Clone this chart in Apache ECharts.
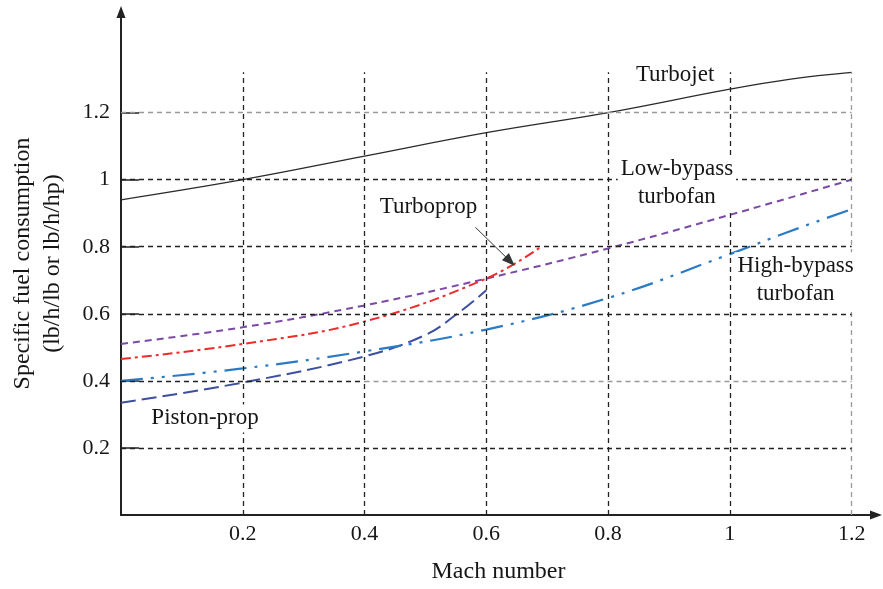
<!DOCTYPE html>
<html>
<head>
<meta charset="utf-8">
<script src="https://cdn.jsdelivr.net/npm/echarts@6/dist/echarts.min.js"></script>
<style>
  html, body { margin: 0; padding: 0; background: #fff; }
  #chart { width: 883px; height: 589px; }
</style>
</head>
<body>
<div id="chart"></div>
<script>
// tick values
const xTicks = [0.2, 0.4, 0.6, 0.8, 1, 1.2];
const yTicks = [0.2, 0.4, 0.6, 0.8, 1, 1.2];

// curves (mach number -> sfc)
const machTurbojet = [0, 0.2, 0.4, 0.6, 0.8, 1.0, 1.1, 1.2];
const sfcTurbojet = [0.94, 1.0, 1.07, 1.14, 1.2, 1.27, 1.30, 1.32];

const machLowBypass = [0, 0.2, 0.4, 0.6, 0.8, 1.0, 1.2];
const sfcLowBypass = [0.51, 0.56, 0.625, 0.705, 0.795, 0.895, 1.0];

const machTurboprop = [0, 0.2, 0.4, 0.6, 0.69];
const sfcTurboprop = [0.465, 0.51, 0.577, 0.705, 0.80];

const machPiston = [0, 0.2, 0.4, 0.5, 0.55, 0.6];
const sfcPiston = [0.335, 0.395, 0.473, 0.537, 0.597, 0.67];

const machHighBypass = [0, 0.2, 0.4, 0.6, 0.8, 1.0, 1.1, 1.2];
const sfcHighBypass = [0.40, 0.437, 0.488, 0.553, 0.647, 0.778, 0.847, 0.912];

const labelNames = ['Turbojet', 'Low-bypass\nturbofan', 'Turboprop', 'High-bypass\nturbofan', 'Piston-prop'];

const zip = (xs, ys) => xs.map((x, i) => [x, ys[i]]);
const FONT = '"Liberation Serif", "DejaVu Serif", serif';
const TEXT = '#161616';
const gridTop = 1.32;

const chart = echarts.init(document.getElementById('chart'));

// dashed grid lines (end at the top of the data, not at the arrow)
const gridLines = [];
xTicks.forEach(x => {
  gridLines.push([
    {coord: [x, 0], lineStyle: {color: x === 1.2 ? '#999' : '#222'}},
    {coord: [x, gridTop]}
  ]);
});
yTicks.forEach(y => {
  if (y === 0.4) {
    gridLines.push([{coord: [0, y], lineStyle: {color: '#222'}}, {coord: [0.4, y]}]);
    gridLines.push([{coord: [0.4, y], lineStyle: {color: '#999'}}, {coord: [1.2, y]}]);
  } else {
    gridLines.push([
      {coord: [0, y], lineStyle: {color: y === 1.2 ? '#999' : '#222'}},
      {coord: [1.2, y]}
    ]);
  }
});

// annotation anchor points in data coordinates
const labelPoints = [
  [0.91, 1.313],
  [0.913, 0.99],
  [0.505, 0.918],
  [1.108, 0.70],
  [0.138, 0.288]
];

const option = {
  animation: false,
  backgroundColor: '#fff',
  grid: {left: 118, right: 7, top: 12, bottom: 72},
  xAxis: {
    type: 'value',
    min: 0,
    max: 1.24,
    interval: 0.2,
    name: 'Mach number',
    nameLocation: 'middle',
    nameGap: 45,
    nameTextStyle: {fontFamily: FONT, fontSize: 24, color: TEXT},
    axisLine: {
      lineStyle: {color: '#222', width: 2},
      symbol: ['none', 'triangle'],
      symbolSize: [9, 12]
    },
    axisTick: {show: false},
    axisLabel: {
      customValues: xTicks,
      formatter: v => String(v),
      fontFamily: FONT, fontSize: 22, color: TEXT, margin: 8
    },
    splitLine: {show: false}
  },
  yAxis: {
    type: 'value',
    min: 0,
    max: 1.5,
    interval: 0.1,
    name: 'Specific fuel consumption\n(lb/h/lb or lb/h/hp)',
    nameLocation: 'middle',
    nameRotate: 90,
    nameGap: 53,
    nameTextStyle: {fontFamily: FONT, fontSize: 24, color: TEXT, lineHeight: 30},
    axisLine: {
      lineStyle: {color: '#222', width: 2},
      symbol: ['none', 'triangle'],
      symbolSize: [9, 12]
    },
    axisTick: {
      customValues: yTicks,
      inside: true,
      length: 18,
      lineStyle: {color: '#222', width: 1.5}
    },
    axisLabel: {
      customValues: yTicks,
      formatter: v => String(v),
      fontFamily: FONT, fontSize: 22, color: TEXT, margin: 11
    },
    splitLine: {show: false}
  },
  series: [
    {
      name: 'grid',
      type: 'line',
      data: [],
      silent: true,
      z: 1,
      markLine: {
        silent: true,
        symbol: ['none', 'none'],
        label: {show: false},
        lineStyle: {type: [5, 4], width: 1.3, color: '#222'},
        data: gridLines
      }
    },
    {
      name: 'Turbojet',
      type: 'line',
      data: zip(machTurbojet, sfcTurbojet),
      smooth: 0.4,
      showSymbol: false,
      z: 3,
      lineStyle: {color: '#2a2a2a', width: 1.3}
    },
    {
      name: 'Low-bypass turbofan',
      type: 'line',
      data: zip(machLowBypass, sfcLowBypass),
      smooth: 0.4,
      showSymbol: false,
      z: 3,
      lineStyle: {color: '#7b4aa6', width: 2, type: [7, 5]}
    },
    {
      name: 'Turboprop',
      type: 'line',
      data: zip(machTurboprop, sfcTurboprop),
      smooth: 0.4,
      showSymbol: false,
      z: 3,
      lineStyle: {color: '#ee2b2b', width: 2, type: [10, 4, 3, 4]}
    },
    {
      name: 'Piston-prop',
      type: 'line',
      data: zip(machPiston, sfcPiston),
      smooth: 0.4,
      showSymbol: false,
      z: 3,
      lineStyle: {color: '#3d4f9f', width: 2, type: [15, 6]}
    },
    {
      name: 'High-bypass turbofan',
      type: 'line',
      data: zip(machHighBypass, sfcHighBypass),
      smooth: 0.4,
      showSymbol: false,
      z: 3,
      lineStyle: {color: '#2b7bc4', width: 2.2, type: [22, 8, 3, 8, 3, 8]}
    },
    {
      name: 'labels',
      type: 'scatter',
      symbolSize: 0,
      silent: true,
      z: 5,
      itemStyle: {opacity: 1, color: '#fff'},
      data: labelPoints.map((p, i) => ({value: p, name: labelNames[i]})),
      label: {
        show: true,
        position: 'inside',
        formatter: p => p.name,
        fontFamily: FONT,
        fontSize: 23,
        lineHeight: 28,
        color: TEXT,
        backgroundColor: '#fff',
        padding: [0, 3]
      },
      markLine: {
        silent: true,
        symbol: ['none', 'triangle'],
        symbolSize: [10, 13],
        label: {show: false},
        lineStyle: {type: 'solid', color: '#333', width: 1},
        data: [[{coord: [0.582, 0.858]}, {coord: [0.639, 0.757]}]]
      }
    }
  ]
};

chart.setOption(option);
</script>
</body>
</html>
